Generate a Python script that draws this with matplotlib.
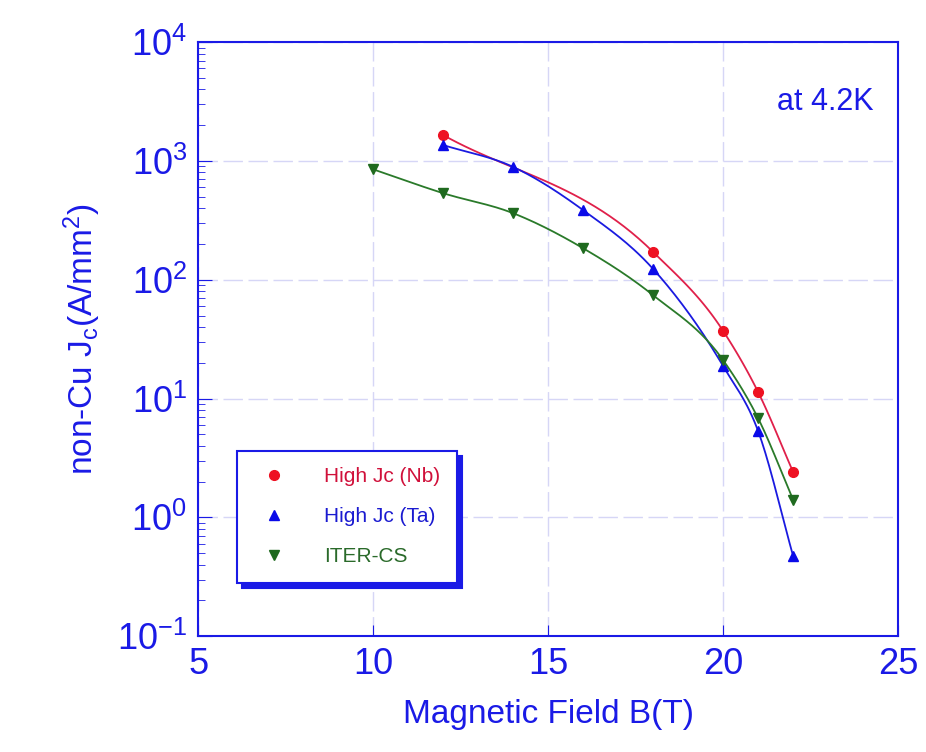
import numpy as np
import matplotlib
matplotlib.use("Agg")
import matplotlib.pyplot as plt

plt.rcParams['font.family'] = ['Liberation Sans', 'DejaVu Sans']
plt.rcParams['mathtext.default'] = 'regular'
plt.rcParams['axes.unicode_minus'] = False

# data (B in T, Jc in A/mm^2)
b_nb = [12, 18, 20, 21, 22]
jc_nb = [1650, 171, 37, 11.3, 2.4]
b_ta = [12, 14, 16, 18, 20, 21, 22]
jc_ta = [1360, 890, 385, 123, 18.7, 5.3, 0.47]
b_iter = [10, 12, 14, 16, 18, 20, 21, 22]
jc_iter = [850, 535, 363, 184, 74, 21, 6.8, 1.4]

names = ['High Jc (Nb)', 'High Jc (Ta)', 'ITER-CS']
line_colors = ['#e0204a', '#1a1ae0', '#2a7a2a']
marker_colors = ['#ee1122', '#0a0ae8', '#1f6a1f']
markers = ['o', '^', 'v']
axis_blue = '#1a1ae6'


def smooth(x, y, n=30):
    # cubic Hermite through the points in log space, for the drawn curve only
    x = np.asarray(x, float)
    ly = np.log10(y)
    m = np.gradient(ly, x)
    xs, ys = [], []
    for i in range(len(x) - 1):
        h = x[i + 1] - x[i]
        t = np.linspace(0, 1, n)
        h00 = 2 * t**3 - 3 * t**2 + 1
        h10 = t**3 - 2 * t**2 + t
        h01 = -2 * t**3 + 3 * t**2
        h11 = t**3 - t**2
        xs.append(x[i] + t * h)
        ys.append(h00 * ly[i] + h10 * h * m[i] + h01 * ly[i + 1] + h11 * h * m[i + 1])
    return np.concatenate(xs), 10 ** np.concatenate(ys)


fig = plt.figure(figsize=(9.26, 7.52), dpi=100)
ax = fig.add_axes([0.214, 0.154, 0.756, 0.79])

series = [(b_nb, jc_nb), (b_ta, jc_ta), (b_iter, jc_iter)]
for (bx, jy), name, lc, mc, mk in zip(series, names, line_colors, marker_colors, markers):
    sx, sy = smooth(bx, jy)
    ax.plot(sx, sy, color=lc, lw=1.3)
    ax.plot(bx, jy, linestyle='none', marker=mk, color=mc, markersize=7, label=name)

ax.set_yscale('log')
ax.set_xlim(5, 25)
ax.set_ylim(0.1, 1e4)
ax.set_xticks([5, 10, 15, 20, 25])
ax.grid(True, which='major', color='#d6d6f6', linestyle=(0, (14, 4)), lw=1)

for s in ax.spines.values():
    s.set_color(axis_blue)
    s.set_linewidth(1.5)
ax.tick_params(axis='both', which='both', direction='in', colors=axis_blue,
               labelcolor=axis_blue, labelsize=26, pad=8)
ax.tick_params(axis='y', which='major', length=10)
ax.tick_params(axis='y', which='minor', length=5)
ax.tick_params(axis='x', which='major', length=8)

ax.set_xlabel('Magnetic Field B(T)', fontsize=24, color=axis_blue, labelpad=12)
ax.set_ylabel('non-Cu J$_c$(A/mm$^2$)', fontsize=24, color=axis_blue, labelpad=10)

ax.text(0.965, 0.9, 'at 4.2K', transform=ax.transAxes, ha='right', va='center',
        fontsize=22, color=axis_blue)

leg = ax.legend(loc='lower left', bbox_to_anchor=(0.055, 0.09), fontsize=15,
                frameon=True, fancybox=False,
                shadow={'color': axis_blue, 'alpha': 1, 'ox': 3.5, 'oy': -3.5},
                handletextpad=1.4, labelspacing=1.0, borderpad=0.8, borderaxespad=0)
leg.get_frame().set_edgecolor(axis_blue)
leg.get_frame().set_linewidth(1.5)
for t, c in zip(leg.get_texts(), ['#d0103a', '#1a1ad0', '#2a6a2a']):
    t.set_color(c)

fig.savefig('out.png', dpi=100)
